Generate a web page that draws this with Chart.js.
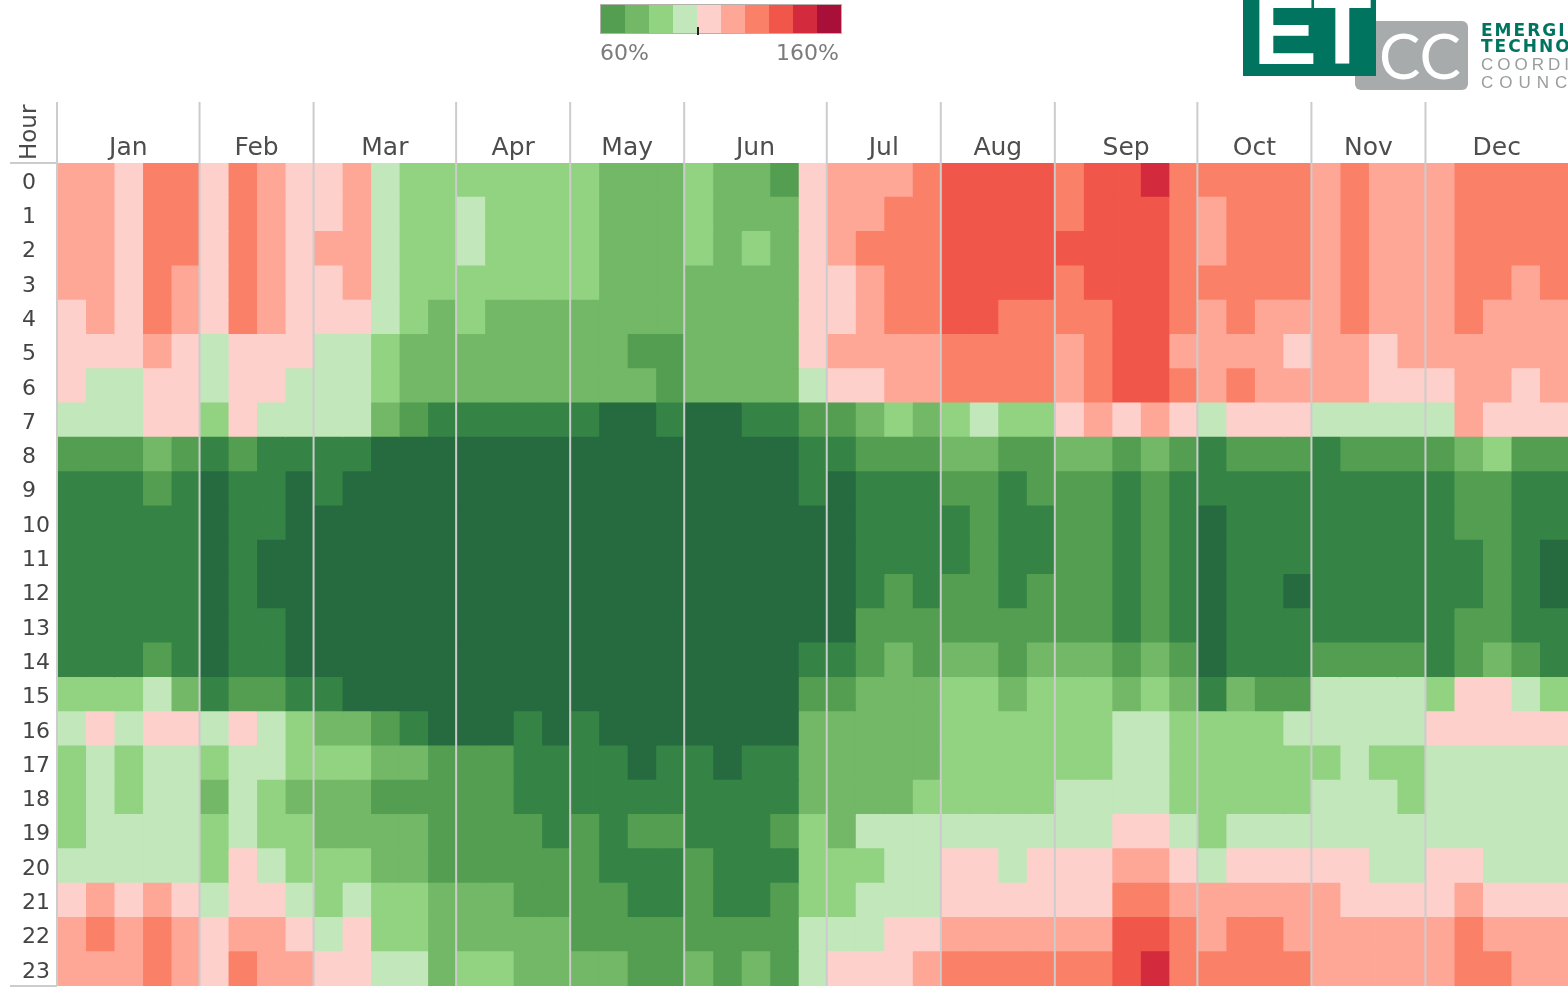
<!DOCTYPE html>
<html>
<head>
<meta charset="utf-8">
<title>Load by hour and week</title>
<script src="https://cdn.jsdelivr.net/npm/chart.js@4"></script>
<style>
    html, body { margin: 0; padding: 0; background: #fff; width: 1568px; height: 993px; overflow: hidden; }
    #wrap { position: relative; width: 1568px; height: 993px; overflow: hidden; font-family: "DejaVu Sans", sans-serif; }
    canvas { display: block; }
    #legendBar { position: absolute; left: 600px; top: 4px; width: 240px; height: 28px; display: flex; border: 1px solid #b5b0ac; }
    #legendBar div { flex: 1; }
    #legendMark { position: absolute; left: 697px; top: 27px; width: 2px; height: 8px; background: #222; }
    .legendText { position: absolute; top: 40px; font-size: 22px; line-height: 26px; color: #7b7b7b; }
    #logoGrey { position: absolute; left: 1355px; top: 21px; width: 113px; height: 69px; background: #a8abab; border-radius: 6px; }
    #logoCC { position: absolute; left: 1379px; top: 15px; font: 400 62px/80px Lato, sans-serif; color: #fff; }
    #logoGreen { position: absolute; left: 1243px; top: 0; width: 133px; height: 76px; background: #00745f; overflow: hidden; }
    #logoET { position: absolute; left: 10px; top: -17px; font: bold 96px/96px "Liberation Sans", sans-serif; color: #fff; letter-spacing: -4px; }
    .logoLine { position: absolute; left: 1481px; font-size: 17px; line-height: 18px; white-space: nowrap; }
    .logoBold { color: #00745f; font-weight: bold; letter-spacing: 2px; }
    .logoThin { color: #9a9d9d; letter-spacing: 4px; font-family: "Liberation Sans", sans-serif; }
</style>
</head>
<body>
<div id="wrap">
    <canvas id="heatChart" width="1568" height="993"></canvas>
    <div id="legendBar"></div>
    <div id="legendMark"></div>
    <div class="legendText" style="left:600px">60%</div>
    <div class="legendText" style="left:776px">160%</div>
    <div id="logoGrey"></div>
    <div id="logoCC">CC</div>
    <div id="logoGreen"><div id="logoET">ET</div></div>
    <div class="logoLine logoBold" style="top:21px">EMERGING</div>
    <div class="logoLine logoBold" style="top:37px">TECHNOLOGIES</div>
    <div class="logoLine logoThin" style="top:56px">COORDINATING</div>
    <div class="logoLine logoThin" style="top:74px;letter-spacing:6px">COUNCIL</div>
</div>
<script>
var months = ['Jan', 'Feb', 'Mar', 'Apr', 'May', 'Jun', 'Jul', 'Aug', 'Sep', 'Oct', 'Nov', 'Dec'];
var weeksInMonth = [5, 4, 5, 4, 4, 5, 4, 4, 5, 4, 4, 5];
var hours = ['0','1','2','3','4','5','6','7','8','9','10','11','12','13','14','15','16','17','18','19','20','21','22','23'];

// one row per hour, one value per week, percent
var percentByHour = [
    [115,115,105,125,125, 105,125,115,105, 105,115,95,85,85, 85,85,85,85, 85,75,75,75, 85,75,75,65,105, 115,115,115,125, 135,135,135,135, 125,135,135,145,125, 125,125,125,125, 115,125,115,115, 115,125,125,125,125],
    [115,115,105,125,125, 105,125,115,105, 105,115,95,85,85, 95,85,85,85, 85,75,75,75, 85,75,75,75,105, 115,115,125,125, 135,135,135,135, 125,135,135,135,125, 115,125,125,125, 115,125,115,115, 115,125,125,125,125],
    [115,115,105,125,125, 105,125,115,105, 115,115,95,85,85, 95,85,85,85, 85,75,75,75, 85,75,85,75,105, 115,125,125,125, 135,135,135,135, 135,135,135,135,125, 115,125,125,125, 115,125,115,115, 115,125,125,125,125],
    [115,115,105,125,115, 105,125,115,105, 105,115,95,85,85, 85,85,85,85, 85,75,75,75, 75,75,75,75,105, 105,115,125,125, 135,135,135,135, 125,135,135,135,125, 125,125,125,125, 115,125,115,115, 115,125,125,115,125],
    [105,115,105,125,115, 105,125,115,105, 105,105,95,85,75, 85,75,75,75, 75,75,75,75, 75,75,75,75,105, 105,115,125,125, 135,135,125,125, 125,125,135,135,125, 115,125,115,115, 115,125,115,115, 115,125,115,115,115],
    [105,105,105,115,105, 95,105,105,105, 95,95,85,75,75, 75,75,75,75, 75,75,65,65, 75,75,75,75,105, 115,115,115,115, 125,125,125,125, 115,125,135,135,115, 115,115,115,105, 115,115,105,115, 115,115,115,115,115],
    [105,95,95,105,105, 95,105,105,95, 95,95,85,75,75, 75,75,75,75, 75,75,75,65, 75,75,75,75,95, 105,105,115,115, 125,125,125,125, 115,125,135,135,125, 115,125,115,115, 115,115,105,105, 105,115,115,105,115],
    [95,95,95,105,105, 85,105,95,95, 95,95,75,65,55, 55,55,55,55, 55,45,45,55, 45,45,55,55,65, 65,75,85,75, 85,95,85,85, 105,115,105,115,105, 95,105,105,105, 95,95,95,95, 95,115,105,105,105],
    [65,65,65,75,65, 55,65,55,55, 55,55,45,45,45, 45,45,45,45, 45,45,45,45, 45,45,45,45,55, 55,65,65,65, 75,75,65,65, 75,75,65,75,65, 55,65,65,65, 55,65,65,65, 65,75,85,65,65],
    [55,55,55,65,55, 45,55,55,45, 55,45,45,45,45, 45,45,45,45, 45,45,45,45, 45,45,45,45,55, 45,55,55,55, 65,65,55,65, 65,65,55,65,55, 55,55,55,55, 55,55,55,55, 55,65,65,55,55],
    [55,55,55,55,55, 45,55,55,45, 45,45,45,45,45, 45,45,45,45, 45,45,45,45, 45,45,45,45,45, 45,55,55,55, 55,65,55,55, 65,65,55,65,55, 45,55,55,55, 55,55,55,55, 55,65,65,55,55],
    [55,55,55,55,55, 45,55,45,45, 45,45,45,45,45, 45,45,45,45, 45,45,45,45, 45,45,45,45,45, 45,55,55,55, 55,65,55,55, 65,65,55,65,55, 45,55,55,55, 55,55,55,55, 55,55,65,55,45],
    [55,55,55,55,55, 45,55,45,45, 45,45,45,45,45, 45,45,45,45, 45,45,45,45, 45,45,45,45,45, 45,55,65,55, 65,65,55,65, 65,65,55,65,55, 45,55,55,45, 55,55,55,55, 55,55,65,55,45],
    [55,55,55,55,55, 45,55,55,45, 45,45,45,45,45, 45,45,45,45, 45,45,45,45, 45,45,45,45,45, 45,65,65,65, 65,65,65,65, 65,65,55,65,55, 45,55,55,55, 55,55,55,55, 55,65,65,55,55],
    [55,55,55,65,55, 45,55,55,45, 45,45,45,45,45, 45,45,45,45, 45,45,45,45, 45,45,45,45,55, 55,65,75,65, 75,75,65,75, 75,75,65,75,65, 45,55,55,55, 65,65,65,65, 55,65,75,65,55],
    [85,85,85,95,75, 55,65,65,55, 55,45,45,45,45, 45,45,45,45, 45,45,45,45, 45,45,45,45,65, 65,75,75,75, 85,85,75,85, 85,85,75,85,75, 55,75,65,65, 95,95,95,95, 85,105,105,95,85],
    [95,105,95,105,105, 95,105,95,85, 75,75,65,55,45, 45,45,55,45, 55,45,45,45, 45,45,45,45,75, 75,75,75,75, 85,85,85,85, 85,85,95,95,85, 85,85,85,95, 95,95,95,95, 105,105,105,105,105],
    [85,95,85,95,95, 85,95,95,85, 85,85,75,75,65, 65,65,55,55, 55,55,45,55, 55,45,55,55,75, 75,75,75,75, 85,85,85,85, 85,85,95,95,85, 85,85,85,85, 85,95,85,85, 95,95,95,95,95],
    [85,95,85,95,95, 75,95,85,75, 75,75,65,65,65, 65,65,55,55, 55,55,55,55, 55,55,55,55,75, 75,75,75,85, 85,85,85,85, 95,95,95,95,85, 85,85,85,85, 95,95,95,85, 95,95,95,95,95],
    [85,95,95,95,95, 85,95,85,85, 75,75,75,75,65, 65,65,65,55, 65,55,65,65, 55,55,55,65,85, 75,95,95,95, 95,95,95,95, 95,95,105,105,95, 85,95,95,95, 95,95,95,95, 95,95,95,95,95],
    [95,95,95,95,95, 85,105,95,85, 85,85,75,75,65, 65,65,65,65, 65,55,55,55, 65,55,55,55,85, 85,85,95,95, 105,105,95,105, 105,105,115,115,105, 95,105,105,105, 105,105,95,95, 105,105,95,95,95],
    [105,115,105,115,105, 95,105,105,95, 85,95,85,85,75, 75,75,65,65, 65,65,55,55, 65,55,55,65,85, 85,95,95,95, 105,105,105,105, 105,105,125,125,115, 115,115,115,115, 115,105,105,105, 105,115,105,105,105],
    [115,125,115,125,115, 105,115,115,105, 95,105,85,85,75, 75,75,75,75, 65,65,65,65, 65,65,65,65,95, 95,95,105,105, 115,115,115,115, 115,115,135,135,125, 115,125,125,115, 115,115,115,115, 115,125,115,115,115],
    [115,115,115,125,115, 105,125,115,115, 105,105,95,95,75, 85,85,75,75, 75,75,65,65, 75,65,75,65,95, 105,105,105,115, 125,125,125,125, 125,125,135,145,125, 125,125,125,125, 115,115,115,115, 115,125,125,115,115]
];

// 10 point bins, legend shows 60% to 160%, darker greens fall below the legend
var binStart = 40;
var binSize = 10;
var binColors = ['#256b3f', '#358446', '#549e52', '#72b866', '#92d382', '#c1e7ba', '#fed0cb', '#fea797', '#fb8068', '#f05649', '#d42a3d', '#a8103a'];

function colorFor(pct) {
    return binColors[Math.floor((pct - binStart) / binSize)];
}

var legendBar = document.getElementById('legendBar');
binColors.slice(2).forEach(function(c) {
    var cell = document.createElement('div');
    cell.style.background = c;
    legendBar.appendChild(cell);
});

var weekCount = weeksInMonth.reduce(function(a, b) { return a + b; }, 0);
var monthEdges = [0];
weeksInMonth.forEach(function(w, i) { monthEdges.push(monthEdges[i] + w); });

var datasets = [];
for (var w = 0; w < weekCount; w++) {
    datasets.push({
        data: hours.map(function() { return [w, w + 1]; }),
        backgroundColor: percentByHour.map(function(row) { return colorFor(row[w]); }),
        borderWidth: 0,
        inflateAmount: 0.5,
        grouped: false,
        barPercentage: 1,
        categoryPercentage: 1
    });
}

// month separators run up through the header, plus the hour column rules and title
var headerPlugin = {
    id: 'headerLines',
    afterDatasetsDraw: function(chart) {
        var ctx = chart.ctx, area = chart.chartArea, x = chart.scales.x;
        ctx.save();
        ctx.strokeStyle = '#cccccc';
        ctx.lineWidth = 2;
        monthEdges.slice(0, -1).forEach(function(m) {
            var px = x.getPixelForValue(m);
            ctx.beginPath();
            ctx.moveTo(px, 102);
            ctx.lineTo(px, area.bottom);
            ctx.stroke();
        });
        ctx.beginPath();
        ctx.moveTo(10, area.top);
        ctx.lineTo(area.left, area.top);
        ctx.moveTo(10, area.bottom);
        ctx.lineTo(area.left, area.bottom);
        ctx.stroke();
        ctx.translate(36, 160);
        ctx.rotate(-Math.PI / 2);
        ctx.fillStyle = '#4a4a4a';
        ctx.font = '23px "DejaVu Sans"';
        ctx.textAlign = 'left';
        ctx.textBaseline = 'alphabetic';
        ctx.fillText('Hour', 0, 0);
        ctx.restore();
    }
};

var ctx = document.getElementById('heatChart').getContext('2d');
var heatChart = new Chart(ctx, {
    type: 'bar',
    data: { labels: hours, datasets: datasets },
    plugins: [headerPlugin],
    options: {
        indexAxis: 'y',
        responsive: false,
        animation: false,
        layout: { padding: { left: 22, right: 0, top: 0, bottom: 7 } },
        plugins: { legend: { display: false }, tooltip: { enabled: false } },
        scales: {
            x: {
                type: 'linear',
                position: 'top',
                min: 0,
                max: weekCount,
                grid: { display: false, drawTicks: false },
                border: { display: false },
                afterBuildTicks: function(scale) {
                    scale.ticks = months.map(function(m, i) {
                        return { value: (monthEdges[i] + monthEdges[i + 1]) / 2 };
                    });
                },
                afterFit: function(scale) { scale.height = 163; },
                ticks: {
                    autoSkip: false,
                    maxRotation: 0,
                    padding: 0,
                    color: '#4d4d4d',
                    font: { family: '"DejaVu Sans"', size: 25 },
                    callback: function(value, index) { return months[index]; }
                }
            },
            y: {
                type: 'category',
                grid: { display: false },
                border: { display: false },
                afterFit: function(scale) {
                    scale.width = 35;
                    scale.paddingTop = 0;
                    scale.paddingBottom = 0;
                },
                ticks: {
                    autoSkip: false,
                    crossAlign: 'far',
                    padding: 0,
                    labelOffset: 3,
                    color: '#444444',
                    font: { family: '"DejaVu Sans"', size: 22 }
                }
            }
        }
    }
});
</script>
</body>
</html>
